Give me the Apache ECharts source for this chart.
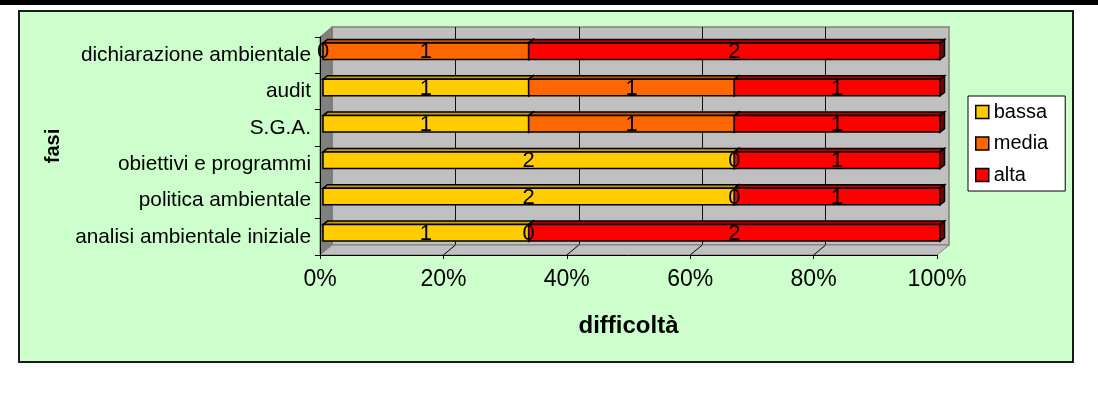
<!DOCTYPE html>
<html>
<head>
<meta charset="utf-8">
<script src="https://cdn.jsdelivr.net/npm/echarts@6/dist/echarts.min.js"></script>
<style>html,body{margin:0;padding:0;background:#fff;}#c{width:1098px;height:418px;}</style>
</head>
<body>
<div id="c"></div>
<script>
const categories = ['dichiarazione ambientale','audit','S.G.A.','obiettivi e programmi','politica ambientale','analisi ambientale iniziale'];
const seriesNames = ['bassa','media','alta'];
const bassa = [0,1,1,2,2,1];
const media = [1,1,1,0,0,0];
const alta  = [2,1,1,1,1,2];
const xTicks = [0,0.2,0.4,0.6,0.8,1];

const FONT = 'Liberation Sans, Arial, sans-serif';
const COLORS = [
  {front:'#FFCC00', top:'#C89E00', cap:'#A07E00'},
  {front:'#FF6600', top:'#C85000', cap:'#A04000'},
  {front:'#FF0000', top:'#B80000', cap:'#800000'}
];
const G = {left:320, top:37, width:617, height:218};
const DX = 12, DY = 10;       // wall depth
const OX = 3, OY = -4;        // bar front face offset
const BX = 4.5, BY = 3.5;     // bar depth

const values = [bassa, media, alta];
const totals = categories.map((c,i)=>bassa[i]+media[i]+alta[i]);
function buildData(k){
  return categories.map((c,i)=>{
    let s=0; for(let j=0;j<k;j++) s+=values[j][i];
    const e = s+values[k][i];
    return [s/totals[i], e/totals[i], i, values[k][i]];
  });
}

function renderItem(params, api){
  const s=api.value(0), e=api.value(1), ci=api.value(2), v=api.value(3);
  const a=api.coord([s,ci]), b=api.coord([e,ci]);
  const band=api.size([0,1])[1];
  const h=band*0.455;
  const x0=a[0]+OX, x1=b[0]+OX, yc=a[1]+OY, y0=yc-h/2, y1=yc+h/2;
  const col=COLORS[params.seriesIndex];
  const st={stroke:'#000', lineWidth:1.5, lineJoin:'miter'};
  const children=[];
  if(e>s){
    children.push({type:'polygon', shape:{points:[[x0,y0],[x0+BX,y0-BY],[x1+BX,y0-BY],[x1,y0]]}, style:Object.assign({fill:col.top},st)});
    children.push({type:'polygon', shape:{points:[[x1,y0],[x1+BX,y0-BY],[x1+BX,y1-BY],[x1,y1]]}, style:Object.assign({fill:col.cap},st)});
    children.push({type:'rect', shape:{x:x0,y:y0,width:x1-x0,height:h}, style:Object.assign({fill:col.front},st)});
  }
  children.push({type:'text', x:(x0+x1)/2, y:yc+1, z2:100, style:{text:String(v), fill:'#000', font:'22px '+FONT, align:'center', verticalAlign:'middle'}});
  return {type:'group', children};
}

const chart = echarts.init(document.getElementById('c'));
chart.setOption({
  animation:false,
  textStyle:{fontFamily:FONT},
  grid:[
    {left:G.left, top:G.top, width:G.width, height:G.height},
    {left:G.left+DX, top:G.top-DY, width:G.width, height:G.height}
  ],
  legend:{
    data:seriesNames, orient:'vertical', left:968, top:96,
    itemWidth:13, itemHeight:13, itemGap:11.5, padding:[6,17,6,7],
    backgroundColor:'#fff', borderColor:'#000', borderWidth:1,
    icon:'rect', itemStyle:{borderColor:'#000', borderWidth:1.5},
    textStyle:{fontSize:20, color:'#000', lineHeight:20, fontFamily:FONT}
  },
  xAxis:[
    {gridIndex:0, type:'value', min:0, max:1, interval:0.2, z:5,
     axisLine:{show:true, lineStyle:{color:'#000', width:1}},
     axisTick:{show:true, length:4, lineStyle:{color:'#000'}},
     axisLabel:{formatter:v=>Math.round(v*100)+'%', fontSize:23, color:'#000', margin:13, fontFamily:FONT},
     splitLine:{show:false},
     name:'difficoltà', nameLocation:'middle', nameGap:59,
     nameTextStyle:{fontSize:24, fontWeight:'bold', color:'#000', fontFamily:FONT}},
    {gridIndex:1, type:'value', min:0, max:1, interval:0.2,
     axisLine:{show:false}, axisTick:{show:false}, axisLabel:{show:false},
     splitLine:{show:true, showMinLine:false, showMaxLine:false, lineStyle:{color:'#111', width:1}}}
  ],
  yAxis:[
    {gridIndex:0, type:'category', data:categories, inverse:true, z:5,
     axisLine:{show:true, lineStyle:{color:'#000', width:1}},
     axisTick:{show:true, length:5, lineStyle:{color:'#000'}},
     axisLabel:{fontSize:20.8, color:'#000', margin:9, fontFamily:FONT},
     splitLine:{show:false},
     name:'fasi', nameLocation:'middle', nameGap:257, nameRotate:90,
     nameTextStyle:{fontSize:20, fontWeight:'bold', color:'#000', fontFamily:FONT}},
    {gridIndex:1, type:'category', data:categories, inverse:true, show:false}
  ],
  series: seriesNames.map((n,k)=>({
    name:n, type:'custom', xAxisIndex:0, yAxisIndex:0,
    itemStyle:{color:COLORS[k].front},
    encode:{x:[0,1], y:2},
    data:buildData(k), renderItem:renderItem, z:2
  }))
});

const yF = G.top+G.height;
const diag = xTicks.slice(1,-1).map(v=>{
  const x = chart.convertToPixel({xAxisIndex:0}, v);
  return {type:'line', z:1, shape:{x1:x, y1:yF, x2:x+DX, y2:yF-DY}, style:{stroke:'#000', lineWidth:1}};
});
const xL = G.left, xR = G.left+G.width, yT = G.top;
chart.setOption({
  graphic:{elements:[
    {type:'rect', z:-10, shape:{x:0, y:0, width:1098, height:5}, style:{fill:'#000'}},
    {type:'rect', z:-10, shape:{x:19, y:11, width:1054, height:351}, style:{fill:'#CCFFCC', stroke:'#1a1a1a', lineWidth:2}},
    {type:'rect', z:-5, shape:{x:xL+DX, y:yT-DY, width:G.width, height:G.height}, style:{fill:'#C0C0C0', stroke:'#808080', lineWidth:1.5}},
    {type:'polygon', z:1, shape:{points:[[xL,yT],[xL+DX,yT-DY],[xL+DX,yF-DY],[xL,yF]]}, style:{fill:'#808080', stroke:'#707070', lineWidth:1}},
    {type:'polygon', z:1, shape:{points:[[xL,yF],[xR,yF],[xR+DX,yF-DY],[xL+DX,yF-DY]]}, style:{fill:'#C0C0C0', stroke:'#808080', lineWidth:1}}
  ].concat(diag)}
});
</script>
</body>
</html>
